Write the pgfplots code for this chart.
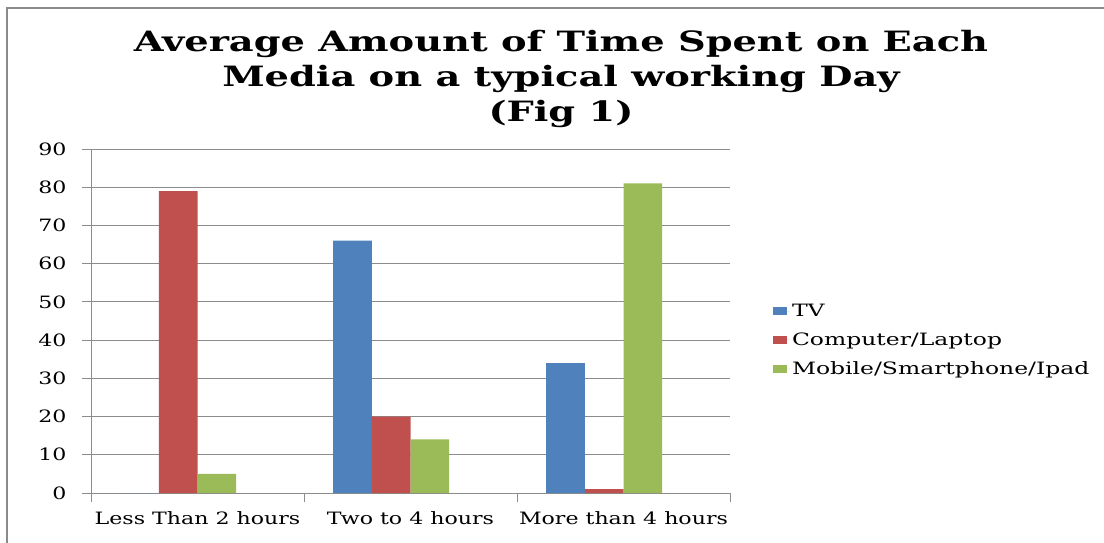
\documentclass[border=0pt]{standalone}
\usepackage{fontspec}
\setmainfont{DejaVu Serif}[FakeStretch=1.25]
\newfontfamily\titlefont{DejaVu Serif}[FakeStretch=1.37]
\newfontfamily\tickfont{DejaVu Serif}[FakeStretch=1.30]
\newfontfamily\legendfont{DejaVu Serif}[FakeStretch=1.38]
\usepackage{pgfplots}
\pgfplotsset{compat=1.18}
\definecolor{tvblue}{HTML}{4F81BD}
\definecolor{pcred}{HTML}{C0504D}
\definecolor{mobgreen}{HTML}{9BBB59}
\definecolor{gridgray}{HTML}{8C8C8C}
\definecolor{framegray}{HTML}{8A8A8A}
\begin{document}
\begin{tikzpicture}[x=1pt,y=1pt]
\useasboundingbox (0,0) rectangle (1104,542);
% outer frame of the chart area
\draw[framegray, line width=2pt] (7,-10) -- (7,534) -- (1120,534);
% title
\node[anchor=base, font=\titlefont\fontsize{28}{34}\selectfont\bfseries] at (561,490) {Average Amount of Time Spent on Each};
\node[anchor=base, font=\titlefont\fontsize{28}{34}\selectfont\bfseries] at (561,455) {Media on a typical working Day};
\node[anchor=base, font=\titlefont\fontsize{28}{34}\selectfont\bfseries] at (561,420) {(Fig 1)};
\begin{axis}[
  at={(91pt,49pt)}, anchor=south west,
  scale only axis, width=639pt, height=344pt,
  xmin=-0.5, xmax=2.5, ymin=0, ymax=90,
  ytick={0,10,...,90},
  xtick={-0.5,0.5,1.5,2.5}, xticklabels={},
  extra x ticks={0,1,2},
  extra x tick labels={Less Than 2 hours,Two to 4 hours,More than 4 hours},
  extra x tick style={major tick length=0pt, grid=none},
  axis lines=left, axis line style={gridgray, line width=1pt, -},
  ymajorgrids, grid style={gridgray, line width=1pt},
  major tick style={gridgray, line width=1pt},
  tick align=outside, major tick length=9pt,
  tick label style={font=\tickfont\fontsize{17}{20}\selectfont, black},
  /pgf/number format/assume math mode=true,
  yticklabel style={xshift=-12pt},
  xticklabel style={yshift=-15pt},
  legend style={at={(1.067,0.555)}, anchor=north west, draw=none,
    font=\legendfont\fontsize{17}{20}\selectfont, row sep=10.5pt, inner sep=0pt},
  legend cell align=left,
  legend image code/.code={\fill (0pt,-4pt) rectangle (14pt,4pt); \path (0pt,0pt) -- (17pt,0pt);},
]
\addplot[ybar, bar width=0.1818, bar shift=-0.2727, fill=tvblue, draw=none]
  coordinates {(0,0) (1,66) (2,34)};
\addplot[ybar, bar width=0.1818, bar shift=-0.0909, fill=pcred, draw=none]
  coordinates {(0,79) (1,20) (2,1)};
\addplot[ybar, bar width=0.1818, bar shift=0.0909, fill=mobgreen, draw=none]
  coordinates {(0,5) (1,14) (2,81)};
\legend{TV,Computer/Laptop,Mobile/Smartphone/Ipad}
\end{axis}
\end{tikzpicture}
\end{document}
